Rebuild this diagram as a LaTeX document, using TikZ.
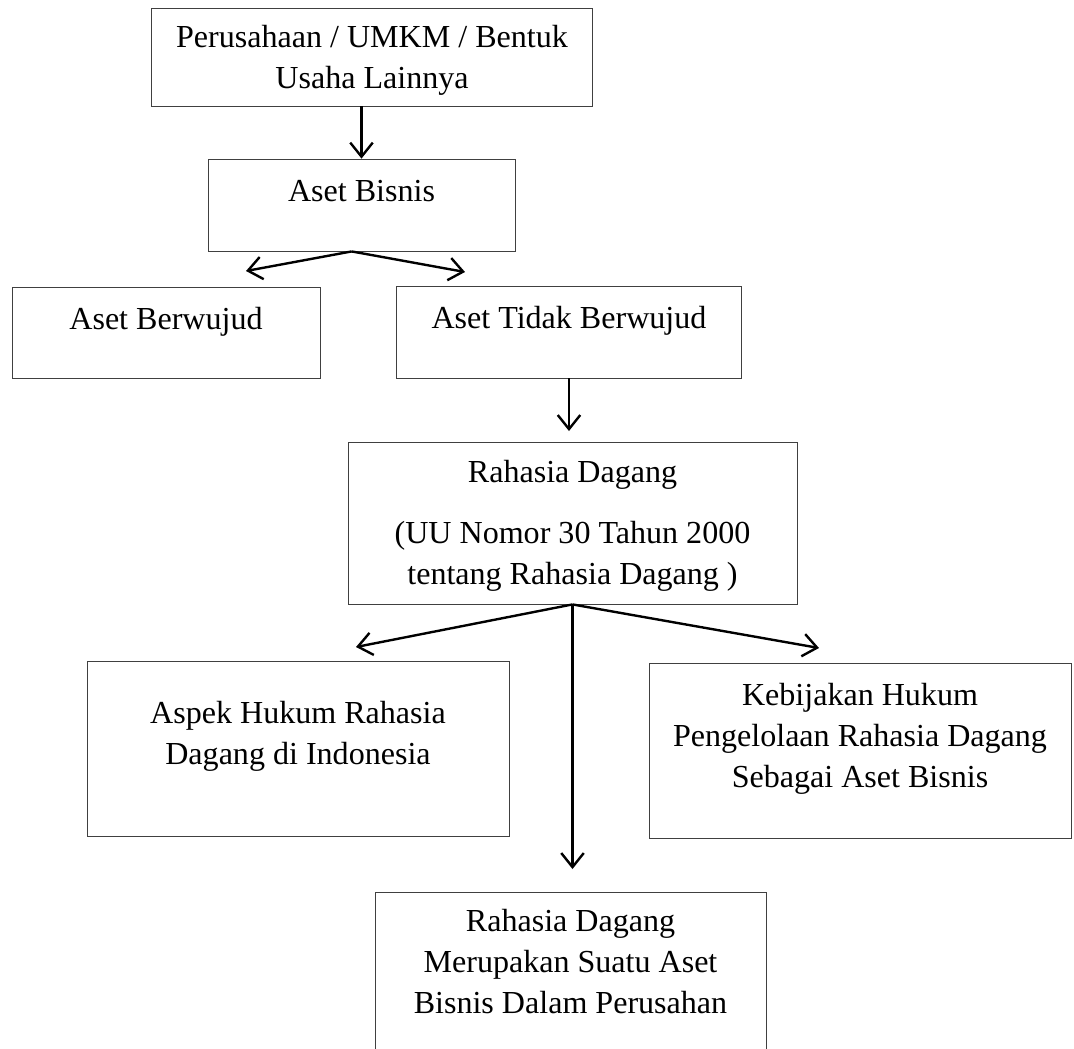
\documentclass[tikz,border=0pt]{standalone}
\usepackage{fontspec}
\setmainfont{Liberation Serif}
\usetikzlibrary{arrows.meta}
\newdimen\pxu \pxu=0.025cm
\newcommand{\boxfont}{\fontsize{22.8}{29.2}\selectfont}
\tikzset{
    box/.style={draw=black!75, line width=0.6pt, inner sep=0pt},
    lbl/.style={align=center, inner sep=0pt, anchor=north, font=\boxfont},
    darrow/.style={-{Straight Barb[length=10pt,width=16pt]}, line width=1.7pt, draw=black},
}

\begin{document}
\begin{tikzpicture}[x=0.025cm, y=-0.025cm]
    \useasboundingbox (0,0) rectangle (1074,1048);
    \fill[white] (0,0) rectangle (1074,1048);
    \clip (0,0) rectangle (1074,1048);
    % boxes
    \node[box, minimum width=441\pxu, minimum height=98\pxu] (1) at (372,57) {};
    \node[box, minimum width=307\pxu, minimum height=92\pxu] (2) at (361.5,205) {};
    \node[box, minimum width=308\pxu, minimum height=91\pxu] (3) at (166,332.5) {};
    \node[box, minimum width=345\pxu, minimum height=92\pxu] (4) at (569,332) {};
    \node[box, minimum width=449\pxu, minimum height=162\pxu] (5) at (572.5,523) {};
    \node[box, minimum width=422\pxu, minimum height=175\pxu] (6) at (298,748.5) {};
    \node[box, minimum width=422\pxu, minimum height=175\pxu] (7) at (860,750.5) {};
    \node[box, minimum width=391\pxu, minimum height=188\pxu] (8) at (570.5,986) {};
    % texts
    \node[lbl] (l1) at (372,25) {Perusahaan / UMKM / Bentuk\\Usaha Lainnya};
    \node[lbl] (l2) at (361.5,180) {Aset Bisnis};
    \node[lbl] (l3) at (166,307) {Aset Berwujud};
    \node[lbl] (l4) at (569,306) {Aset Tidak Berwujud};
    \node[lbl] (l5) at (572.5,460) {Rahasia Dagang\\[14pt](UU Nomor 30 Tahun 2000\\tentang Rahasia Dagang )};
    \node[lbl] (l6) at (298,701) {Aspek Hukum Rahasia\\Dagang di Indonesia};
    \node[lbl] (l7) at (860,683) {Kebijakan Hukum\\Pengelolaan Rahasia Dagang\\Sebagai Aset Bisnis};
    \node[lbl] (l8) at (570.5,909) {Rahasia Dagang\\Merupakan Suatu Aset\\Bisnis Dalam Perusahan};
    % arrow tips
    \coordinate (p3) at (246,271);
    \coordinate (p4) at (465,272);
    \coordinate (p5) at (569,431);
    \coordinate (p6) at (356,647);
    \coordinate (p7) at (819,648);
    \coordinate (p8) at (572.5,869);
    \draw[darrow] (1.south -| 2.north) -- (2.north);
    \draw[darrow] ([xshift=-7pt]2.south) -- (p3);
    \draw[darrow] ([xshift=-7pt]2.south) -- (p4);
    \draw[darrow] (4.south) -- (p5);
    \draw[darrow] (5.south) -- (p6);
    \draw[darrow] (5.south) -- (p7);
    \draw[darrow] (5.south) -- (p8);
\end{tikzpicture}
\end{document}
